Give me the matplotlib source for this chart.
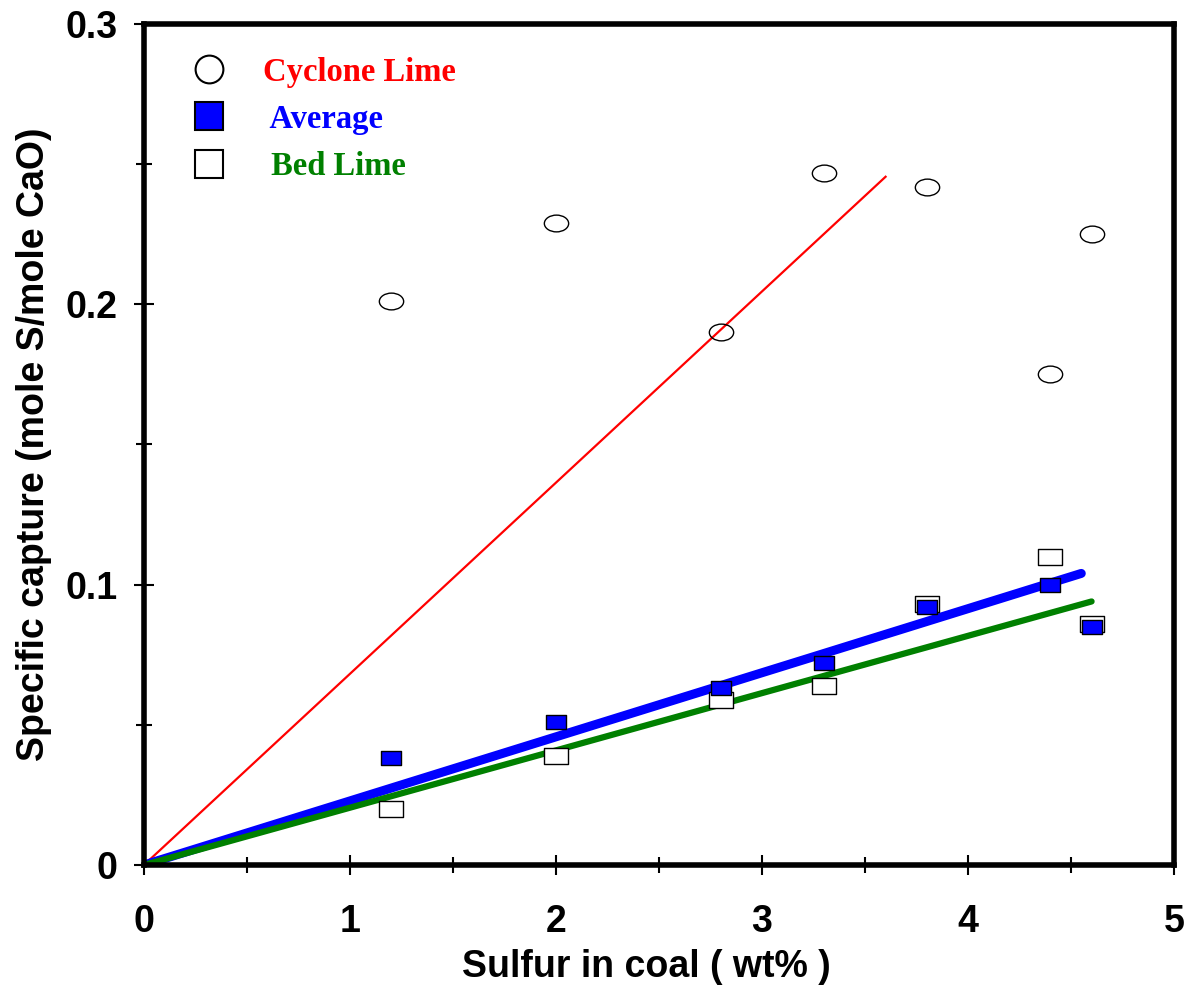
import matplotlib
matplotlib.use("Agg")
import matplotlib.pyplot as plt
from matplotlib.path import Path
from matplotlib.transforms import Affine2D
from matplotlib.lines import Line2D

# data
sulfur = [1.2, 2.0, 2.8, 3.3, 3.8, 4.4, 4.6]
cyclone = [0.201, 0.229, 0.190, 0.247, 0.242, 0.175, 0.225]
average = [0.038, 0.051, 0.063, 0.072, 0.092, 0.100, 0.085]
bed = [0.020, 0.039, 0.059, 0.064, 0.093, 0.110, 0.086]

# fitted lines through the origin (x end, y end)
cyclone_fit_x = [0, 3.6]
cyclone_fit_y = [0, 0.2455]
average_fit_x = [0, 4.55]
average_fit_y = [0, 0.104]
bed_fit_x = [0, 4.6]
bed_fit_y = [0, 0.094]

# flattened markers like in the original
ellipse = Path.unit_circle().transformed(Affine2D().scale(1.45, 1.0))
rect = Path.unit_rectangle().transformed(Affine2D().translate(-0.5, -0.5).scale(1.45, 1.0))

fig = plt.figure(figsize=(11.88, 9.94), dpi=100)
ax = fig.add_axes([0.1212, 0.1298, 0.867, 0.8461])

ax.plot(cyclone_fit_x, cyclone_fit_y, color='red', linewidth=1.6, zorder=2)
ax.plot(average_fit_x, average_fit_y, color='blue', linewidth=6.5, solid_capstyle='round', zorder=2)
ax.plot(bed_fit_x, bed_fit_y, color='green', linewidth=4.5, solid_capstyle='round', zorder=2)

ax.plot(sulfur, cyclone, linestyle='none', marker=ellipse, markersize=17.5,
        markerfacecolor='none', markeredgecolor='black', markeredgewidth=1.0, zorder=3)
ax.plot(sulfur, bed, linestyle='none', marker=rect, markersize=17.5,
        markerfacecolor='white', markeredgecolor='black', markeredgewidth=1.0, zorder=3)
ax.plot(sulfur, average, linestyle='none', marker=rect, markersize=14.5,
        markerfacecolor='blue', markeredgecolor='black', markeredgewidth=1.0, zorder=4)

ax.set_xlim(0, 5)
ax.set_ylim(0, 0.3)
ax.set_xticks([0, 1, 2, 3, 4, 5])
ax.set_xticks([0.5, 1.5, 2.5, 3.5, 4.5], minor=True)
ax.set_yticks([0, 0.1, 0.2, 0.3])
ax.set_yticklabels(['0', '0.1', '0.2', '0.3'])
ax.set_yticks([0.05, 0.15, 0.25], minor=True)
ax.set_xticklabels(['0', '1', '2', '3', '4', '5'])

for s in ax.spines.values():
    s.set_linewidth(4)
ax.tick_params(which='major', direction='inout', length=14, width=1.5, labelsize=27)
ax.tick_params(axis='x', which='major', pad=21)
ax.tick_params(axis='y', which='major', pad=12)
ax.tick_params(which='minor', direction='inout', length=12, width=1.5)
for lab in ax.get_xticklabels() + ax.get_yticklabels():
    lab.set_fontweight('bold')
    lab.set_family('Liberation Sans')

ax.set_xlabel('Sulfur in coal ( wt% )', fontsize=27, fontweight='bold', family='Liberation Sans')
ax.xaxis.set_label_coords(0.488, -0.1)
ax.set_ylabel('Specific capture (mole S/mole CaO)', fontsize=27, fontweight='bold', family='Liberation Sans', labelpad=10)

handles = [
    Line2D([], [], linestyle='none', marker='o', markersize=20, markerfacecolor='none',
           markeredgecolor='black', markeredgewidth=1.5),
    Line2D([], [], linestyle='none', marker='s', markersize=20, markerfacecolor='blue',
           markeredgecolor='black', markeredgewidth=1.5),
    Line2D([], [], linestyle='none', marker='s', markersize=20, markerfacecolor='white',
           markeredgecolor='black', markeredgewidth=1.5),
]
leg = ax.legend(handles, ['Cyclone Lime', ' Average', ' Bed Lime'], loc='upper left',
                frameon=False, labelcolor=['red', 'blue', 'green'], handletextpad=0.65,
                labelspacing=0.5, borderaxespad=0.6,
                prop={'family': 'Liberation Serif', 'weight': 'bold', 'size': 23.5})

fig.savefig('out.png', dpi=100)
